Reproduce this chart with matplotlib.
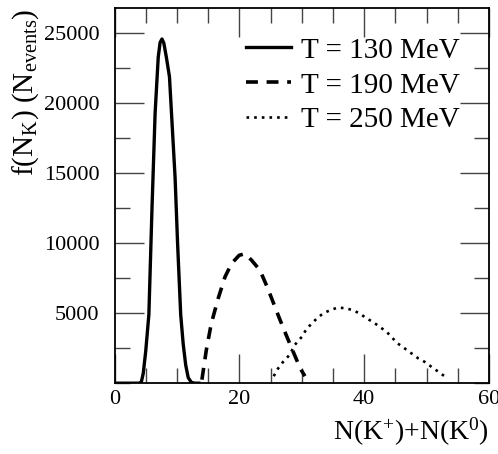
import numpy as np
import matplotlib
matplotlib.use('Agg')
import matplotlib.pyplot as plt
from matplotlib.ticker import MultipleLocator

plt.rcParams['font.family'] = ['Liberation Serif', 'DejaVu Serif']
plt.rcParams['mathtext.fontset'] = 'custom'
plt.rcParams['mathtext.rm'] = 'Liberation Serif'
plt.rcParams['mathtext.it'] = 'Liberation Serif:italic'

# kaon multiplicity distributions for three temperatures
n_130 = [0, 4.0, 4.3, 4.6, 5.0, 5.5, 6.0, 6.5, 7.0, 7.3, 7.6, 7.9, 8.3, 8.8,
         9.2, 9.7, 10.1, 10.6, 11.0, 11.4, 11.8, 12.3, 12.8, 13.5]
f_130 = [0, 0, 100, 700, 2300, 4900, 12500, 19300, 23300, 24350, 24600, 24300,
         23300, 21900, 18700, 14700, 10000, 4900, 2800, 1300, 400, 60, 0, 0]

n_190 = [14.0, 14.7, 15.5, 16.6, 17.7, 18.75, 19.97, 20.9, 21.95, 23.3, 24.45,
         25.4, 26.4, 27.4, 28.4, 29.2, 29.9, 30.5]
f_190 = [250, 2360, 4260, 6050, 7600, 8550, 9140, 9250, 8790, 8070, 6880,
         5800, 4650, 3550, 2480, 1640, 950, 500]

n_250 = [25.5, 26.2, 27.0, 28.0, 28.9, 30.0, 30.8, 31.6, 32.4, 33.4, 34.5,
         35.8, 37.2, 38.2, 39.3, 40.4, 41.4, 42.5, 43.6, 44.6, 45.4, 46.5,
         47.6, 48.7, 49.7, 50.8, 51.9, 52.8]
f_250 = [500, 1050, 1520, 2000, 2750, 3310, 3900, 4260, 4620, 4980, 5210,
         5410, 5340, 5210, 4980, 4620, 4380, 4020, 3670, 3190, 2830, 2480,
         2120, 1760, 1520, 1160, 810, 520]

labels = ['T = 130 MeV', 'T = 190 MeV', 'T = 250 MeV']

fig = plt.figure(figsize=(4.98, 4.54), dpi=100)
ax = fig.add_axes([0.230, 0.156, 0.752, 0.826])

ax.plot(n_130, f_130, color='black', lw=2.4, solid_joinstyle='round', label=labels[0])
ax.plot(n_190, f_190, color='black', lw=2.6, linestyle=(0, (3.3, 2.4)),
        dash_capstyle='butt', label=labels[1])
ax.plot(n_250, f_250, color='black', lw=1.9, linestyle=(0, (1, 1.9)),
        dash_capstyle='butt', label=labels[2])

ax.set_xlim(0, 60)
ax.set_ylim(0, 26800)
ax.xaxis.set_major_locator(MultipleLocator(20))
ax.xaxis.set_minor_locator(MultipleLocator(5))
ax.set_yticks([5000, 10000, 15000, 20000, 25000])
ax.yaxis.set_minor_locator(MultipleLocator(2500))

ax.tick_params(which='both', direction='in', top=True, right=True,
               labelsize=16, width=1.0, color='#444444')
ax.tick_params(which='major', length=21)
ax.tick_params(which='minor', length=11)
ax.tick_params(axis='x', pad=5)
ax.tick_params(axis='y', pad=11)
for s in ax.spines.values():
    s.set_linewidth(1.3)

ax.set_xlabel(r'N(K$^{+}$)+N(K$^{0}$)', fontsize=20, loc='right', labelpad=5)
ax.set_ylabel(r'f(N$_{\mathrm{K}}$) (N$_{\mathrm{events}}$)', fontsize=21,
              loc='top', labelpad=2)

ax.legend(loc='upper right', frameon=False, fontsize=21, handlelength=1.55,
          handletextpad=0.35, labelspacing=0.29, borderaxespad=0.3,
          bbox_to_anchor=(0.977, 0.977))

fig.savefig('out.png', dpi=100)
